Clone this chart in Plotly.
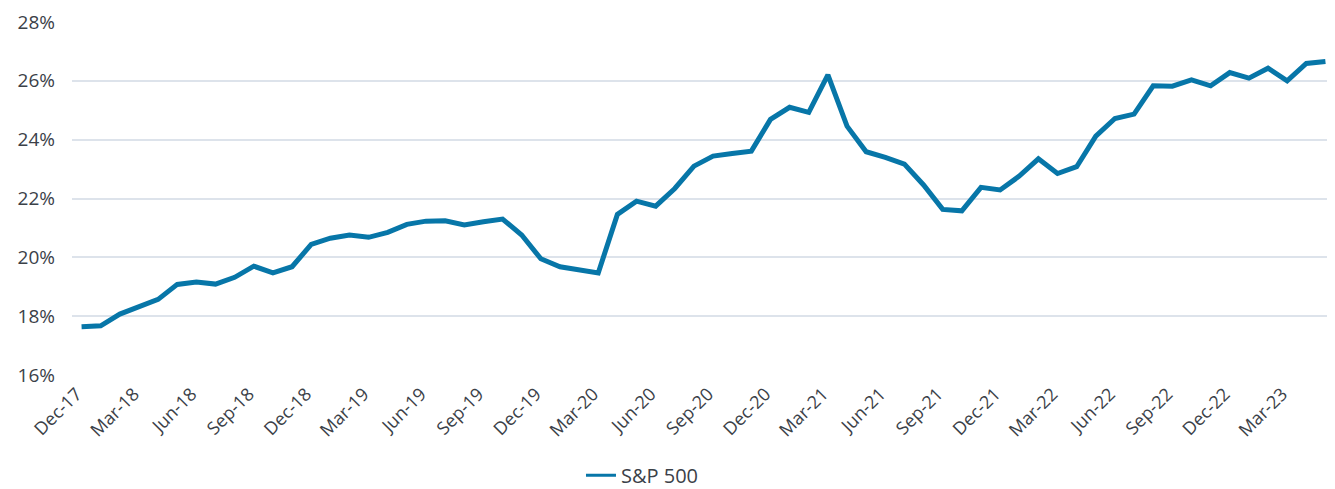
import plotly.graph_objects as go

months = ["Dec-17","Jan-18","Feb-18","Mar-18","Apr-18","May-18","Jun-18","Jul-18","Aug-18","Sep-18","Oct-18","Nov-18",
          "Dec-18","Jan-19","Feb-19","Mar-19","Apr-19","May-19","Jun-19","Jul-19","Aug-19","Sep-19","Oct-19","Nov-19",
          "Dec-19","Jan-20","Feb-20","Mar-20","Apr-20","May-20","Jun-20","Jul-20","Aug-20","Sep-20","Oct-20","Nov-20",
          "Dec-20","Jan-21","Feb-21","Mar-21","Apr-21","May-21","Jun-21","Jul-21","Aug-21","Sep-21","Oct-21","Nov-21",
          "Dec-21","Jan-22","Feb-22","Mar-22","Apr-22","May-22","Jun-22","Jul-22","Aug-22","Sep-22","Oct-22","Nov-22",
          "Dec-22","Jan-23","Feb-23","Mar-23","Apr-23","May-23"]

sp500 = [17.64, 17.67, 18.07, 18.34, 18.57, 19.08, 19.16, 19.09, 19.32, 19.70, 19.47, 19.68,
         20.44, 20.65, 20.76, 20.68, 20.85, 21.12, 21.23, 21.24, 21.10, 21.21, 21.30, 20.76,
         19.95, 19.68, 19.56, 19.47, 21.46, 21.91, 21.74, 22.34, 23.10, 23.44, 23.53, 23.61,
         24.69, 25.10, 24.93, 26.20, 24.46, 23.59, 23.40, 23.17, 22.46, 21.63, 21.58, 22.38,
         22.29, 22.76, 23.35, 22.85, 23.08, 24.12, 24.72, 24.87, 25.83, 25.82, 26.03, 25.83,
         26.28, 26.09, 26.43, 26.00, 26.59, 26.66]

tick_labels = months[::3]
y_ticks = [16, 18, 20, 22, 24, 26, 28]
y_tick_text = [f"{v}%" for v in y_ticks]

color = "#0776A8"
font_family = "Open Sans, Lato, sans-serif"
text_color = "#3b4148"

fig = go.Figure()
fig.add_trace(go.Scatter(x=months, y=sp500, mode="lines", name="S&P 500",
                         line=dict(color=color, width=5, shape="linear"),
                         showlegend=False))
fig.add_trace(go.Scatter(x=[None], y=[None], mode="lines", name="S&P 500",
                         line=dict(color=color, width=3), showlegend=True))

# the page body adds an 8px offset, so the figure is sized to fit the window
fig.update_layout(
    width=1327, height=481,
    margin=dict(l=64, r=0, t=14, b=114, autoexpand=False),
    paper_bgcolor="white", plot_bgcolor="white",
    font=dict(family=font_family, size=17, color=text_color),
    showlegend=True,
    legend=dict(orientation="h", x=0.403, xanchor="left", y=-0.284, yanchor="middle",
                font=dict(size=20, color=text_color), itemwidth=30,
                borderwidth=0, bgcolor="rgba(0,0,0,0)"),
)
fig.update_xaxes(type="category", categoryorder="array", categoryarray=months,
                 range=[-0.5, 65.5], tickmode="array", tickvals=tick_labels, ticktext=tick_labels,
                 tickangle=-45, showgrid=False, zeroline=False, showline=False, ticks="",
                 automargin=False, ticklabelstandoff=4, ticklabelshift=-5,
                 tickfont=dict(size=18, color=text_color))
fig.update_yaxes(range=[16, 28], tickmode="array", tickvals=y_ticks, ticktext=y_tick_text,
                 showgrid=True, gridcolor="#dde3eb", gridwidth=1.5, zeroline=False, showline=False,
                 ticks="", ticklabelstandoff=16, automargin=False,
                 tickfont=dict(size=19, color=text_color))

fig.write_html("out.html")
